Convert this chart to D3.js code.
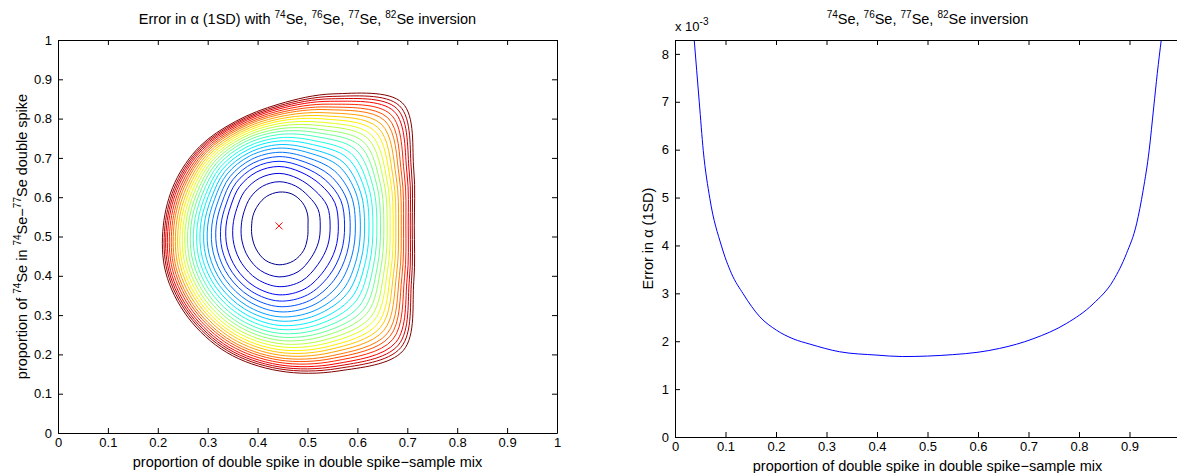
<!DOCTYPE html>
<html>
<head>
<meta charset="utf-8">
<script src="https://cdn.jsdelivr.net/npm/d3@7"></script>
<style>
  html, body { margin: 0; padding: 0; background: #fff; }
  svg { display: block; font-family: "Liberation Sans", Arial, Helvetica, sans-serif; }
</style>
</head>
<body>
<svg id="fig" width="1177" height="473"></svg>
<script>
// ---------------- data ----------------
// axis ticks
const unitTicks = [0, 0.1, 0.2, 0.3, 0.4, 0.5, 0.6, 0.7, 0.8, 0.9, 1];
const mixTicks = [0, 0.1, 0.2, 0.3, 0.4, 0.5, 0.6, 0.7, 0.8, 0.9];
const errorTicks = [0, 1, 2, 3, 4, 5, 6, 7, 8];          // in units of 1e-3
const errorAxisMax = 8.29e-3;

// left panel: optimum (minimum error) position
const optimum = [0.443, 0.527];

// three traced contours, sampled every 22.5 degrees around the optimum (x, y)
const innerContour = [
  [0.501, 0.527], [0.500, 0.557], [0.490, 0.586], [0.469, 0.608],
  [0.443, 0.613], [0.418, 0.602], [0.401, 0.580], [0.391, 0.554],
  [0.388, 0.527], [0.389, 0.499], [0.397, 0.468], [0.415, 0.440],
  [0.443, 0.428], [0.472, 0.438], [0.492, 0.464], [0.500, 0.497]
];
const middleContour = [
  [0.653, 0.527], [0.646, 0.634], [0.612, 0.741], [0.523, 0.773],
  [0.443, 0.774], [0.372, 0.746], [0.314, 0.691], [0.279, 0.613],
  [0.261, 0.527], [0.265, 0.434], [0.299, 0.344], [0.360, 0.273],
  [0.443, 0.236], [0.534, 0.247], [0.619, 0.304], [0.647, 0.420]
];
const outerContour = [
  [0.714, 0.527], [0.713, 0.669], [0.690, 0.840], [0.553, 0.863],
  [0.443, 0.837], [0.356, 0.793], [0.284, 0.729], [0.234, 0.637],
  [0.211, 0.527], [0.216, 0.408], [0.260, 0.295], [0.338, 0.205],
  [0.443, 0.158], [0.563, 0.158], [0.692, 0.210], [0.713, 0.385]
];
// position of each contour level between innermost (0) and outermost (1),
// measured along the line through the optimum
const contourLevels = [
  0, 0.117, 0.211, 0.289, 0.348, 0.401, 0.450, 0.497, 0.537, 0.578,
  0.615, 0.652, 0.686, 0.717, 0.748, 0.776, 0.804, 0.829, 0.854, 0.879,
  0.900, 0.922, 0.944, 0.963, 0.981, 1.0
];
const middleLevelIndex = 13;

// right panel: error in alpha vs proportion of double spike
const spikeProportion = [
  0.038, 0.048, 0.056, 0.069, 0.092, 0.112, 0.135, 0.168, 0.201, 0.234,
  0.267, 0.326, 0.400, 0.450, 0.500, 0.550, 0.600, 0.643, 0.709, 0.775,
  0.828, 0.868, 0.894, 0.914, 0.927, 0.939, 0.948, 0.955, 0.963
];
const alphaError = [
  8.30e-3, 7.00e-3, 5.98e-3, 4.98e-3, 3.99e-3, 3.41e-3, 2.99e-3, 2.51e-3, 2.23e-3, 2.05e-3,
  1.94e-3, 1.78e-3, 1.71e-3, 1.68e-3, 1.69e-3, 1.72e-3, 1.77e-3, 1.85e-3, 2.05e-3, 2.37e-3,
  2.78e-3, 3.27e-3, 3.83e-3, 4.45e-3, 5.15e-3, 5.99e-3, 6.89e-3, 7.59e-3, 8.30e-3
];

// ---------------- helpers ----------------
const svg = d3.select("#fig");
const TICK_FONT = 13;
const LABEL_FONT = 14.5;
const SUP_FONT = 10;

// text with superscripts: parts = [[text, isSup], ...]
function richText(sel, parts, size) {
  let raised = false;
  parts.forEach(([t, sup]) => {
    const ts = sel.append("tspan").text(t);
    if (sup) {
      ts.attr("font-size", SUP_FONT);
      if (!raised) { ts.attr("dy", -6); raised = true; }
    } else {
      ts.attr("font-size", size);
      if (raised) { ts.attr("dy", 6); raised = false; }
    }
  });
  return sel;
}

// jet colour map
const jet = d3.scaleLinear()
  .domain([0, 0.125, 0.375, 0.625, 0.875, 1])
  .range(["#00008f", "#0000ff", "#00ffff", "#ffff00", "#ff0000", "#800000"])
  .interpolate(d3.interpolateRgb);

function styleAxis(a) {
  a.select(".domain").attr("stroke", "#000").attr("stroke-width", 1);
  a.selectAll(".tick line").attr("stroke", "#000").attr("stroke-width", 1);
  a.selectAll(".tick text").attr("font-size", TICK_FONT).attr("fill", "#000")
    .attr("font-family", "Liberation Sans, Arial, sans-serif");
}

function drawFrame(g, x, y, xTicks, yTicks, yFmt, withRight) {
  const [x0, x1] = x.range();
  const [y0, y1] = y.range();
  styleAxis(g.append("g").attr("transform", `translate(0,${y0})`)
    .call(d3.axisBottom(x).tickValues(xTicks).tickFormat(d3.format("~g"))
      .tickSizeInner(-5).tickSizeOuter(0).tickPadding(5)));
  styleAxis(g.append("g").attr("transform", `translate(0,${y1})`)
    .call(d3.axisTop(x).tickValues(xTicks).tickFormat("").tickSizeInner(-5).tickSizeOuter(0)));
  styleAxis(g.append("g").attr("transform", `translate(${x0},0)`)
    .call(d3.axisLeft(y).tickValues(yTicks).tickFormat(yFmt)
      .tickSizeInner(-5).tickSizeOuter(0).tickPadding(6)));
  if (withRight) {
    styleAxis(g.append("g").attr("transform", `translate(${x1},0)`)
      .call(d3.axisRight(y).tickValues(yTicks).tickFormat("").tickSizeInner(-5).tickSizeOuter(0)));
  }
}

// ---------------- left panel ----------------
const xL = d3.scaleLinear().domain([0, 1]).range([58, 557]);
const yL = d3.scaleLinear().domain([0, 1]).range([433, 40]);
const gL = svg.append("g");

const contourLine = d3.line()
  .x(d => xL(d[0])).y(d => yL(d[1]))
  .curve(d3.curveCatmullRomClosed.alpha(0.5));

// each level passes through the three traced contours (quadratic in level position)
const tm = contourLevels[middleLevelIndex];
function levelPoints(t) {
  const w0 = (t - tm) * (t - 1) / (tm * 1);
  const w1 = t * (t - 1) / (tm * (tm - 1));
  const w2 = t * (t - tm) / (1 - tm);
  return innerContour.map((p, i) => [
    w0 * p[0] + w1 * middleContour[i][0] + w2 * outerContour[i][0],
    w0 * p[1] + w1 * middleContour[i][1] + w2 * outerContour[i][1]
  ]);
}

const nLev = contourLevels.length;
gL.append("g").attr("fill", "none").attr("stroke-width", 1)
  .selectAll("path")
  .data(contourLevels.map((t, k) => ({ k, pts: levelPoints(t) })))
  .join("path")
  .attr("d", d => contourLine(d.pts))
  .attr("stroke", d => jet(d.k / (nLev - 1)));

// optimum marker
const mx = xL(optimum[0]), my = yL(optimum[1]);
gL.append("path")
  .attr("d", `M${mx - 3.5},${my - 3.5}L${mx + 3.5},${my + 3.5}M${mx - 3.5},${my + 3.5}L${mx + 3.5},${my - 3.5}`)
  .attr("stroke", "#ff0000").attr("stroke-width", 1).attr("fill", "none");

drawFrame(gL, xL, yL, unitTicks, unitTicks, d3.format("~g"), true);

richText(svg.append("text").attr("x", (58 + 557) / 2).attr("y", 24).attr("text-anchor", "middle"),
  [["Error in α (1SD) with ", false], ["74", true], ["Se, ", false], ["76", true], ["Se, ", false],
   ["77", true], ["Se, ", false], ["82", true], ["Se inversion", false]], LABEL_FONT);

svg.append("text").attr("x", (58 + 557) / 2).attr("y", 467).attr("text-anchor", "middle")
  .attr("font-size", LABEL_FONT).text("proportion of double spike in double spike−sample mix");

richText(svg.append("text").attr("transform", `translate(27,${(40 + 433) / 2}) rotate(-90)`).attr("text-anchor", "middle"),
  [["proportion of ", false], ["74", true], ["Se in ", false], ["74", true], ["Se−", false], ["77", true], ["Se double spike", false]], LABEL_FONT);

// ---------------- right panel ----------------
const xR = d3.scaleLinear().domain([0, 1]).range([675, 1180]);
const yR = d3.scaleLinear().domain([0, errorAxisMax]).range([437, 40]);
const gR = svg.append("g");

svg.append("clipPath").attr("id", "plotR").append("rect")
  .attr("x", 675).attr("y", 40).attr("width", 505).attr("height", 397);

const errLine = d3.line()
  .x((d, i) => xR(spikeProportion[i])).y(d => yR(d))
  .curve(d3.curveMonotoneX);

gR.append("path").datum(alphaError)
  .attr("clip-path", "url(#plotR)")
  .attr("d", errLine).attr("fill", "none").attr("stroke", "#0000ff").attr("stroke-width", 1);

drawFrame(gR, xR, yR, mixTicks, errorTicks.map(v => v * 1e-3),
  v => d3.format("~g")(Math.round(v * 1e3)), false);

richText(svg.append("text").attr("x", 675).attr("y", 31),
  [["x 10", false], ["-3", true]], TICK_FONT);

richText(svg.append("text").attr("x", (675 + 1180) / 2).attr("y", 24).attr("text-anchor", "middle"),
  [["74", true], ["Se, ", false], ["76", true], ["Se, ", false],
   ["77", true], ["Se, ", false], ["82", true], ["Se inversion", false]], LABEL_FONT);

svg.append("text").attr("x", (675 + 1180) / 2).attr("y", 471).attr("text-anchor", "middle")
  .attr("font-size", LABEL_FONT).text("proportion of double spike in double spike−sample mix");

svg.append("text").attr("transform", `translate(653,${(40 + 437) / 2}) rotate(-90)`).attr("text-anchor", "middle")
  .attr("font-size", LABEL_FONT).text("Error in α (1SD)");
</script>
</body>
</html>
